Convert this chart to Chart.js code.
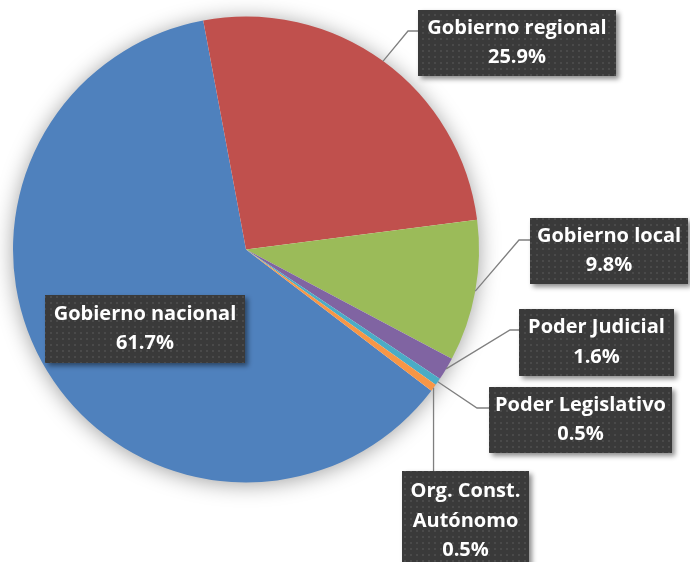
<!DOCTYPE html>
<html>
<head>
<meta charset="utf-8">
<script src="https://cdn.jsdelivr.net/npm/chart.js@4"></script>
<style>
  html, body { margin: 0; padding: 0; background: #ffffff; }
  #wrap { width: 690px; height: 562px; position: relative; }
</style>
</head>
<body>
<div id="wrap"><canvas id="chart1" width="690" height="562"></canvas></div>
<script>
// data
var categories = ["Gobierno nacional", "Gobierno regional", "Gobierno local", "Poder Judicial", "Poder Legislativo", "Org. Const. Autónomo"];
var shares = [61.7, 25.9, 9.8, 1.6, 0.5, 0.5];
var labelLines = [
    ["Gobierno nacional"],
    ["Gobierno regional"],
    ["Gobierno local"],
    ["Poder Judicial"],
    ["Poder Legislativo"],
    ["Org. Const.", "Autónomo"]
];
var sliceColors = ["#4f81bd", "#c0504d", "#9bbb59", "#8064a2", "#4bacc6", "#f79646"];

// where the label boxes sit (x, y, w, h) and leader elbow (null = label inside)
var boxes = [
    {x: 45,  y: 295, w: 200, h: 68, elbow: null},
    {x: 418, y: 10,  w: 198, h: 66, elbow: [408, 31]},
    {x: 530, y: 218, w: 158, h: 66, elbow: [519, 240]},
    {x: 519, y: 309, w: 155, h: 67, elbow: [510, 330]},
    {x: 489, y: 387, w: 183, h: 66, elbow: [477, 408]},
    {x: 402, y: 471, w: 127, h: 96, elbow: null, vertical: true}
];

var dotPattern = null;
function getPattern(ctx) {
    if (dotPattern) return dotPattern;
    var c = document.createElement("canvas");
    c.width = 6; c.height = 6;
    var p = c.getContext("2d");
    p.fillStyle = "#3a3a3a";
    p.fillRect(0, 0, 6, 6);
    p.fillStyle = "#4a4a4a";
    p.fillRect(2, 2, 2, 2);
    dotPattern = ctx.createPattern(c, "repeat");
    return dotPattern;
}

var pieShadow = {
    id: "pieShadow",
    beforeDatasetsDraw: function(chart) {
        var arc = chart.getDatasetMeta(0).data[0];
        if (!arc) return;
        var ctx = chart.ctx;
        ctx.save();
        ctx.shadowColor = "rgba(0,0,0,0.4)";
        ctx.shadowBlur = 22;
        ctx.shadowOffsetY = 2;
        ctx.fillStyle = "#ffffff";
        ctx.beginPath();
        ctx.arc(arc.x, arc.y, arc.outerRadius - 1, 0, Math.PI * 2);
        ctx.fill();
        ctx.restore();
    }
};

var boxLabels = {
    id: "boxLabels",
    afterDatasetsDraw: function(chart) {
        var ctx = chart.ctx;
        var meta = chart.getDatasetMeta(0);
        ctx.save();
        ctx.font = "bold 18px 'Open Sans'";
        var fs = Math.min(20, 18 * 180 / ctx.measureText("Gobierno regional").width);
        var font = "bold " + fs.toFixed(1) + "px 'Open Sans'";

        for (var i = 0; i < shares.length; i++) {
            var arc = meta.data[i];
            var b = boxes[i];
            var mid = (arc.startAngle + arc.endAngle) / 2;
            var sx = arc.x + Math.cos(mid) * arc.outerRadius;
            var sy = arc.y + Math.sin(mid) * arc.outerRadius;

            // leader line
            ctx.strokeStyle = "#7f7f7f";
            ctx.lineWidth = 1.3;
            if (b.elbow) {
                ctx.beginPath();
                ctx.moveTo(sx, sy);
                ctx.lineTo(b.elbow[0], b.elbow[1]);
                ctx.lineTo(b.x, b.elbow[1]);
                ctx.stroke();
            } else if (b.vertical) {
                ctx.beginPath();
                ctx.moveTo(sx, sy);
                ctx.lineTo(sx, b.y);
                ctx.stroke();
            }

            // box with shadow
            ctx.save();
            ctx.shadowColor = "rgba(0,0,0,0.45)";
            ctx.shadowBlur = 5;
            ctx.shadowOffsetX = 3;
            ctx.shadowOffsetY = 3;
            ctx.fillStyle = getPattern(ctx);
            ctx.fillRect(b.x, b.y, b.w, b.h);
            ctx.restore();

            // text
            var lines = labelLines[i].concat([shares[i].toFixed(1) + "%"]);
            ctx.fillStyle = "#ffffff";
            ctx.font = font;
            ctx.textAlign = "center";
            ctx.textBaseline = "middle";
            var lh = 29.5;
            var cx = b.x + b.w / 2;
            var top = b.y + 6 + lh / 2;
            if (lines.length === 2) top = b.y + b.h / 2 - lh / 2;
            for (var k = 0; k < lines.length; k++) {
                ctx.fillText(lines[k], cx, top + k * lh);
            }
        }
        ctx.restore();
    }
};

var ctx = document.getElementById("chart1");
var chart = new Chart(ctx, {
    type: "pie",
    data: {
        labels: categories,
        datasets: [{
            data: shares,
            backgroundColor: sliceColors,
            borderWidth: 0
        }]
    },
    options: {
        responsive: false,
        animation: false,
        rotation: 127.3,
        layout: { padding: { left: 13, top: 16, right: 211, bottom: 79 } },
        plugins: {
            legend: { display: false },
            tooltip: { enabled: false },
            title: { display: false }
        }
    },
    plugins: [pieShadow, boxLabels]
});
</script>
</body>
</html>
